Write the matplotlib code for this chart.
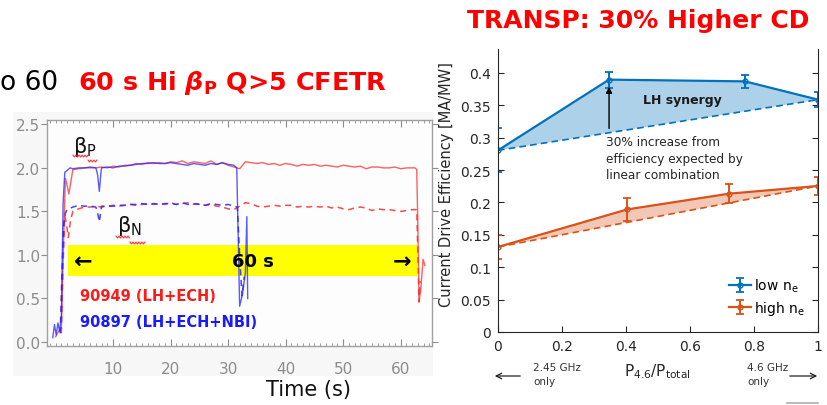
import numpy as np
import matplotlib.pyplot as plt
from matplotlib.ticker import MultipleLocator, FuncFormatter
from matplotlib.patches import Rectangle
from matplotlib.lines import Line2D

plt.rcParams['font.family'] = ['DejaVu Sans']
plt.rcParams['mathtext.fontset'] = 'custom'
plt.rcParams['mathtext.rm'] = 'DejaVu Sans'
plt.rcParams['mathtext.it'] = 'DejaVu Sans:italic'
plt.rcParams['mathtext.bf'] = 'DejaVu Sans:bold'
plt.rcParams['mathtext.sf'] = 'DejaVu Sans:bold:italic'

# --- EAST long pulse, shot 90949 (LH+ECH) ---
t_bp_90949 = [0.0, 0.5, 1.0, 1.4, 1.7, 2.0, 2.3, 2.7, 3.0,
              4, 5, 6, 7, 8, 9, 10, 11, 12, 13, 14, 15, 16, 17, 18, 19, 20,
              21, 22, 23, 24, 25, 26, 27, 28, 29, 30, 31, 32, 33, 34, 35, 36,
              37, 38, 39, 40, 41, 42, 43, 44, 45, 46, 47, 48, 49, 50, 51, 52,
              53, 54, 55, 56, 57, 58, 59, 60, 61, 62,
              62.5, 62.8, 63.0, 63.2, 63.5, 63.9, 64.2]
bp_90949 = [0.06, 0.12, 0.16, 1.20, 1.88, 1.80, 1.70, 1.86, 1.98,
            1.99, 2.00, 2.00, 2.00, 2.01, 2.00, 2.02, 2.01, 2.03, 2.03, 2.05, 2.04, 2.06, 2.05, 2.06, 2.05, 2.07,
            2.06, 2.08, 2.05, 2.07, 2.06, 2.05, 2.08, 2.04, 2.06, 2.03, 2.01, 1.99, 2.07, 2.06, 2.05, 2.06,
            2.04, 2.05, 2.03, 2.05, 2.04, 2.02, 2.04, 2.03, 2.04, 2.02, 2.03, 2.02, 2.01, 2.03, 2.02, 2.01,
            2.02, 1.99, 2.01, 2.01, 2.00, 2.00, 2.01, 1.99, 2.00, 2.00,
            2.00, 1.98, 1.30, 0.46, 0.60, 0.95, 0.88]
t_bn_90949 = [1.0, 1.3, 1.6, 1.9, 2.2, 2.6, 3.0,
              4, 5, 6, 7, 8, 9, 10, 11, 12, 13, 14, 15, 16, 17, 18, 19, 20,
              21, 22, 23, 24, 25, 26, 27, 28, 29, 30, 31, 32, 33, 34, 35, 36,
              37, 38, 39, 40, 41, 42, 43, 44, 45, 46, 47, 48, 49, 50, 51, 52,
              53, 54, 55, 56, 57, 58, 59, 60, 61, 62,
              62.8, 63.0, 63.2, 63.4]
bn_90949 = [0.10, 0.90, 1.45, 1.35, 1.20, 1.40, 1.50,
            1.53, 1.55, 1.55, 1.56, 1.55, 1.56, 1.57, 1.56, 1.57, 1.58, 1.57, 1.58, 1.59, 1.58, 1.59, 1.58, 1.60,
            1.58, 1.59, 1.60, 1.58, 1.59, 1.57, 1.58, 1.56, 1.55, 1.53, 1.52, 1.56, 1.60, 1.59, 1.56, 1.55,
            1.56, 1.57, 1.56, 1.57, 1.57, 1.55, 1.56, 1.55, 1.56, 1.55, 1.56, 1.54, 1.55, 1.53, 1.52, 1.54,
            1.55, 1.54, 1.51, 1.53, 1.52, 1.52, 1.51, 1.50, 1.51, 1.52,
            1.52, 1.00, 0.46, 0.70]

# --- shot 90897 (LH+ECH+NBI) ---
t_bp_90897 = [-0.5, -0.2, 0.1, 0.4, 0.7, 1.0, 1.3, 1.6, 2.0, 2.5, 3,
              4, 5, 6, 7, 7.3, 7.6, 7.9, 8, 9, 10, 11, 12, 13, 14, 15, 16, 17,
              18, 19, 20, 21, 22, 23, 24, 25, 26, 27, 28, 29, 30, 31,
              31.5, 32.0, 32.5, 33.0, 33.25, 33.4]
bp_90897 = [0.05, 0.20, 0.08, 0.22, 0.12, 0.30, 1.60, 1.95, 1.97, 2.00, 1.99,
            2.00, 2.00, 2.01, 2.00, 1.92, 1.73, 1.96, 2.00, 2.01, 2.00, 2.02, 2.02, 2.03, 2.04, 2.05, 2.05, 2.06,
            2.05, 2.05, 2.06, 2.05, 2.04, 2.03, 2.05, 2.04, 2.03, 2.05, 2.04, 2.06, 2.04, 2.03,
            2.00, 0.41, 0.55, 0.80, 1.44, 0.50]
t_bn_90897 = [0.8, 1.1, 1.4, 1.7, 2.0, 3,
              4, 5, 6, 7, 7.3, 7.6, 7.9, 8, 9, 10, 11, 12, 13, 14, 15, 16, 17,
              18, 19, 20, 21, 22, 23, 24, 25, 26, 27, 28, 29, 30, 31,
              31.6, 32.0, 32.4, 32.8]
bn_90897 = [0.10, 0.80, 1.35, 1.48, 1.52, 1.55,
            1.57, 1.56, 1.56, 1.55, 1.48, 1.38, 1.52, 1.56, 1.56, 1.56, 1.57, 1.57, 1.58, 1.58, 1.59, 1.58, 1.59,
            1.58, 1.59, 1.59, 1.58, 1.60, 1.58, 1.59, 1.58, 1.57, 1.59, 1.58, 1.57, 1.58, 1.56,
            1.55, 1.00, 0.53, 0.75]

# --- TRANSP current drive efficiency vs 4.6 GHz power fraction ---
frac_low = [0.0, 0.347, 0.772, 1.0]
eta_low = [0.2805, 0.3897, 0.387, 0.3588]
err_low = [0.034, 0.0125, 0.010, 0.0115]
frac_high = [0.0, 0.404, 0.722, 1.0]
eta_high = [0.1313, 0.1893, 0.2136, 0.2255]
err_high = [0.019, 0.0175, 0.015, 0.014]

W, H = 827, 406


def px(x, y):
    return x / W, 1 - y / H


def squiggle(x0, x1, y):
    # red wavy underline as drawn by a spell checker
    xs = np.arange(x0, x1 + 0.1, 1.5)
    ys = y + np.where(np.arange(len(xs)) % 2 == 0, -1.0, 1.0)
    fig.add_artist(Line2D(xs / W, 1 - ys / H, color='#ff2020', lw=0.8, alpha=0.9))


fig = plt.figure(figsize=(W / 100, H / 100), dpi=100)

# light backdrop of the pasted shot plot
fig.add_artist(Rectangle(px(13, 377), 420 / W, 264 / H, transform=fig.transFigure,
                         facecolor='#f7f7f7', edgecolor='none', zorder=0))

# ---------------- left: beta_P / beta_N time traces ----------------
ax1 = fig.add_axes([47 / W, 1 - 347 / H, 384.7 / W, 226 / H])
ax1.set_facecolor('#fdfdfd')
red, blue = '#ff2a2a', '#2424ff'
ax1.add_patch(Rectangle((2.2, 0.755), 60.7, 0.355, facecolor='#ffff00', edgecolor='none', zorder=1))
ax1.plot(t_bp_90949, bp_90949, color=red, lw=1.0, alpha=0.75, zorder=3)
ax1.plot(t_bn_90949, bn_90949, color=red, lw=1.1, alpha=0.85, dashes=(4, 3), zorder=3)
ax1.plot(t_bp_90897, bp_90897, color=blue, lw=1.0, alpha=0.75, zorder=3)
ax1.plot(t_bn_90897, bn_90897, color=blue, lw=1.1, alpha=0.85, dashes=(4, 3), zorder=3)

ax1.text(4.8, 0.93, '←', fontsize=16, fontweight='bold', ha='center', va='center', zorder=4)
ax1.text(60.3, 0.93, '→', fontsize=16, fontweight='bold', ha='center', va='center', zorder=4)
ax1.text(34.3, 0.93, '60 s', fontsize=13, fontweight='bold', ha='center', va='center', zorder=4)
ax1.text(4.3, 0.53, '90949 (LH+ECH)', color='#ff1a1a', fontsize=10.5, fontweight='bold', va='center')
ax1.text(4.3, 0.24, '90897 (LH+ECH+NBI)', color='#1a1aff', fontsize=10.5, fontweight='bold', va='center')
ax1.text(3.0, 2.25, r'β$_{\mathrm{P}}$', fontsize=15, va='center', color='#111111')
ax1.text(10.7, 1.34, r'β$_{\mathrm{N}}$', fontsize=15, va='center', color='#111111')
squiggle(73, 88, 157)
squiggle(88, 98, 162)
squiggle(116, 130, 238)
squiggle(130, 146, 244)

ax1.set_xlim(-1.5, 65.4)
ax1.set_ylim(-0.046, 2.55)
ax1.set_xticks([10, 20, 30, 40, 50, 60])
ax1.xaxis.set_minor_locator(MultipleLocator(1))
ax1.set_yticks([0, 0.5, 1.0, 1.5, 2.0, 2.5])
ax1.yaxis.set_major_formatter(FuncFormatter(lambda v, p: f'{v:.1f}'))
ax1.tick_params(axis='x', which='both', direction='in', top=True, bottom=True,
                colors='#8c8c8c', labelsize=11, pad=11)
ax1.tick_params(axis='x', which='major', length=5)
ax1.tick_params(axis='x', which='minor', length=2.5)
ax1.tick_params(axis='y', direction='out', left=True, right=True, length=4,
                colors='#8c8c8c', labelsize=11, pad=1)
for s in ax1.spines.values():
    s.set_color('#a0a0a0')
    s.set_linewidth(1.0)
fig.text(*px(308, 390), 'Time (s)', fontsize=15, ha='center', va='center', color='#111111')

# ---------------- right: TRANSP CD efficiency ----------------
ax2 = fig.add_axes([498 / W, 1 - 333 / H, 320 / W, 283 / H])
c_low, c_high = '#0072BD', '#D95319'
ax2.fill(frac_low, eta_low, color=c_low, alpha=0.32, lw=0)
ax2.fill(frac_high, eta_high, color=c_high, alpha=0.32, lw=0)
ax2.plot([frac_low[0], frac_low[-1]], [eta_low[0], eta_low[-1]], color=c_low, lw=1.2, dashes=(4, 2.5))
ax2.plot([frac_high[0], frac_high[-1]], [eta_high[0], eta_high[-1]], color=c_high, lw=1.2, dashes=(4, 2.5))
ax2.errorbar(frac_low, eta_low, yerr=err_low, color=c_low, lw=1.6, elinewidth=1.4, capsize=3,
             capthick=1.3, marker='o', ms=3.5, mfc='none', label=r'low n$_{\mathrm{e}}$')
ax2.errorbar(frac_high, eta_high, yerr=err_high, color=c_high, lw=1.6, elinewidth=1.4, capsize=3,
             capthick=1.3, marker='o', ms=3.5, mfc='none', label=r'high n$_{\mathrm{e}}$')

ax2.annotate('', xy=(0.347, 0.383), xytext=(0.347, 0.310),
             arrowprops=dict(arrowstyle='-|>', color='black', lw=1.0, mutation_scale=9))
ax2.text(0.575, 0.359, 'LH synergy', fontsize=9, fontweight='bold', ha='center', va='center', color='#1a1a1a')
ax2.text(0.338, 0.3036, '30% increase from\nefficiency expected by\nlinear combination',
         fontsize=8.7, ha='left', va='top', linespacing=1.35, color='#262626')

ax2.set_xlim(0, 1)
ax2.set_ylim(0, 0.437)
ax2.set_xticks([0, 0.2, 0.4, 0.6, 0.8, 1.0])
ax2.set_yticks([0, 0.05, 0.1, 0.15, 0.2, 0.25, 0.3, 0.35, 0.4])
fmt = FuncFormatter(lambda v, p: f'{v:g}')
ax2.xaxis.set_major_formatter(fmt)
ax2.yaxis.set_major_formatter(fmt)
ax2.tick_params(direction='in', length=4, right=True, top=False, labelsize=10,
                colors='#262626', pad=5)
ax2.spines['top'].set_visible(False)
for s in ['left', 'bottom', 'right']:
    ax2.spines[s].set_color('#262626')
    ax2.spines[s].set_linewidth(0.8)
ax2.legend(loc='lower left', bbox_to_anchor=(0.69, 0.02), frameon=False, fontsize=10,
           handlelength=1.6, handletextpad=0.25, labelspacing=0.3, borderpad=0.2)

fig.text(*px(447, 185), 'Current Drive Efficiency [MA/MW]', rotation=90, fontsize=10.5,
         ha='center', va='center', color='#262626')
fig.text(*px(657, 372), r'P$_{4.6}$/P$_{\mathrm{total}}$', fontsize=11, ha='center',
         va='center', color='#262626')
fig.text(*px(533, 375), '2.45 GHz\nonly', fontsize=7.5, ha='left', va='center',
         linespacing=1.45, color='#333333')
fig.text(*px(747, 375), '4.6 GHz\nonly', fontsize=7.5, ha='left', va='center',
         linespacing=1.45, color='#333333')
for x0, x1 in [(523, 492), (787, 820)]:
    ax2.annotate('', xy=px(x1, 377), xytext=px(x0, 377), xycoords='figure fraction',
                 textcoords='figure fraction', annotation_clip=False,
                 arrowprops=dict(arrowstyle='->', color='#222222', lw=0.9))
fig.add_artist(Line2D([787 / W, 818 / W], [1 - 404 / H] * 2, color='#b0b0b0', lw=1.2))

# slide headings
fig.text(*px(0, 83), 'o 60', fontsize=19, color='black', ha='left', va='center')
fig.text(*px(78, 83), r'60 s Hi $\mathsf{\beta}_{\mathbf{P}}$ Q>5 CFETR', fontsize=18.3,
         fontweight='bold', color='#ff0000', ha='left', va='center')
fig.text(*px(467, 21), 'TRANSP: 30% Higher CD', fontsize=18, fontweight='bold',
         color='#ff0000', ha='left', va='center')

fig.savefig('out.png', dpi=100)
